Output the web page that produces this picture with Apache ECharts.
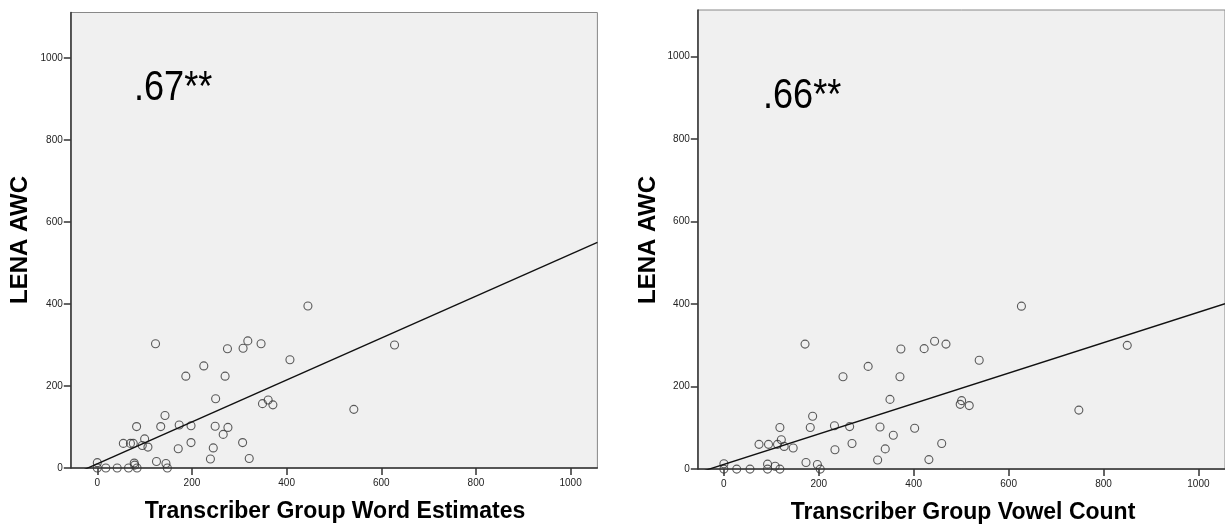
<!DOCTYPE html>
<html>
<head>
<meta charset="utf-8">
<script src="https://cdn.jsdelivr.net/npm/echarts@6/dist/echarts.min.js"></script>
<style>
  html, body { margin: 0; padding: 0; background: #fff; }
  #main { width: 1225px; height: 528px; }
</style>
</head>
<body>
<div id="main"></div>
<script>
// LENA AWC (same children in both panels)
const lenaAwc = [395, 303, 310, 292, 291, 303, 264, 249, 224, 224, 169, 157, 166, 154, 143, 128,
  101, 101, 105, 103, 102, 99, 82, 60, 60, 60, 71, 55, 51, 62, 47, 49, 62, 22, 23, 16, 11,
  13, 12, 7, 0, 0, 0, 0, 0, 0, 300];
// transcriber group word estimates
const wordEst = [445, 123, 318, 308, 275, 346, 407, 225, 187, 270, 250, 349, 361, 371, 542, 143,
  83, 134, 173, 198, 249, 276, 266, 55, 70, 76, 100, 95, 107, 198, 171, 245, 307, 239, 321, 125, 145,
  0, 78, 79, 0, 18, 42, 66, 84, 148, 628];
// transcriber group vowel count
const vowelCount = [627, 171, 444, 422, 373, 468, 538, 304, 251, 371, 350, 498, 501, 517, 748, 187,
  118, 182, 233, 265, 329, 402, 357, 74, 94, 113, 121, 127, 146, 270, 234, 340, 459, 324, 432, 173, 197,
  0, 92, 108, 0, 27, 55, 92, 118, 203, 850];
// fit lines [intercept, slope]
const wordFit = [10.2, 0.511];
const vowelFit = [11.4, 0.369];
const tickVals = [0, 200, 400, 600, 800, 1000];
const rValues = ['.67**', '.66**'];
const xTitles = ['Transcriber Group Word Estimates', 'Transcriber Group Vowel Count'];
const yTitle = 'LENA AWC';

const xRange = [[-56, 1056.6], [-55, 1056]];
const yRange = [[0, 1111], [0, 1113]];

function pts(xs) {
  return xs.map((x, i) => [x, lenaAwc[i]]);
}
function fitLine(fit, r) {
  return [[r[0], fit[0] + fit[1] * r[0]], [r[1], fit[0] + fit[1] * r[1]]];
}

const axisCommon = {
  type: 'value',
  splitLine: { show: false },
  axisLine: { show: true, onZero: false, lineStyle: { color: '#333', width: 1.5 } },
  axisTick: { show: true, length: 7, customValues: tickVals, lineStyle: { color: '#333', width: 1.5 } },
  axisLabel: { customValues: tickVals, formatter: v => String(v), fontSize: 10, color: '#222',
    fontFamily: 'Liberation Sans, Arial, sans-serif' }
};

const myChart = echarts.init(document.getElementById('main'));
myChart.setOption({
  animation: false,
  grid: [
    { left: 70.8, top: 12.5, width: 526.6, height: 455.5, show: true, backgroundColor: '#f0f0f0', borderColor: '#888', borderWidth: 1 },
    { left: 697.8, top: 10, width: 530.6, height: 459.1, show: true, backgroundColor: '#f0f0f0', borderColor: '#888', borderWidth: 1 }
  ],
  xAxis: [0, 1].map(i => Object.assign({}, axisCommon, {
    gridIndex: i, min: xRange[i][0], max: xRange[i][1],
    axisLabel: Object.assign({}, axisCommon.axisLabel, { margin: 10 })
  })),
  yAxis: [0, 1].map(i => Object.assign({}, axisCommon, {
    gridIndex: i, min: yRange[i][0], max: yRange[i][1],
    axisLabel: Object.assign({}, axisCommon.axisLabel, { margin: 8 })
  })),
  series: [
    { type: 'scatter', xAxisIndex: 0, yAxisIndex: 0, data: pts(wordEst), symbol: 'circle', symbolSize: 8,
      itemStyle: { color: 'transparent', borderColor: '#333', borderWidth: 1.1 }, silent: true },
    { type: 'line', xAxisIndex: 0, yAxisIndex: 0, data: fitLine(wordFit, xRange[0]), showSymbol: false,
      lineStyle: { color: '#111', width: 1.4 }, silent: true },
    { type: 'scatter', xAxisIndex: 1, yAxisIndex: 1, data: pts(vowelCount), symbol: 'circle', symbolSize: 8,
      itemStyle: { color: 'transparent', borderColor: '#333', borderWidth: 1.1 }, silent: true },
    { type: 'line', xAxisIndex: 1, yAxisIndex: 1, data: fitLine(vowelFit, xRange[1]), showSymbol: false,
      lineStyle: { color: '#111', width: 1.4 }, silent: true }
  ],
  graphic: [
    { type: 'text', x: 134, y: 88.5, scaleX: 0.86, style: { text: rValues[0], fontSize: 42, fill: '#000',
      fontFamily: 'Liberation Sans, Arial, sans-serif', align: 'left', verticalAlign: 'middle' } },
    { type: 'text', x: 763, y: 96, scaleX: 0.86, style: { text: rValues[1], fontSize: 42, fill: '#000',
      fontFamily: 'Liberation Sans, Arial, sans-serif', align: 'left', verticalAlign: 'middle' } },
    { type: 'text', x: 335, y: 512, style: { text: xTitles[0], fontSize: 23, fontWeight: 'bold', fill: '#000',
      fontFamily: 'Liberation Sans, Arial, sans-serif', align: 'center', verticalAlign: 'middle' } },
    { type: 'text', x: 963, y: 513, style: { text: xTitles[1], fontSize: 23, fontWeight: 'bold', fill: '#000',
      fontFamily: 'Liberation Sans, Arial, sans-serif', align: 'center', verticalAlign: 'middle' } },
    { type: 'text', x: 20, y: 240, rotation: Math.PI / 2, style: { text: yTitle, fontSize: 24, fontWeight: 'bold', fill: '#000',
      fontFamily: 'Liberation Sans, Arial, sans-serif', align: 'center', verticalAlign: 'middle' } },
    { type: 'text', x: 648, y: 240, rotation: Math.PI / 2, style: { text: yTitle, fontSize: 24, fontWeight: 'bold', fill: '#000',
      fontFamily: 'Liberation Sans, Arial, sans-serif', align: 'center', verticalAlign: 'middle' } }
  ]
});
</script>
</body>
</html>
